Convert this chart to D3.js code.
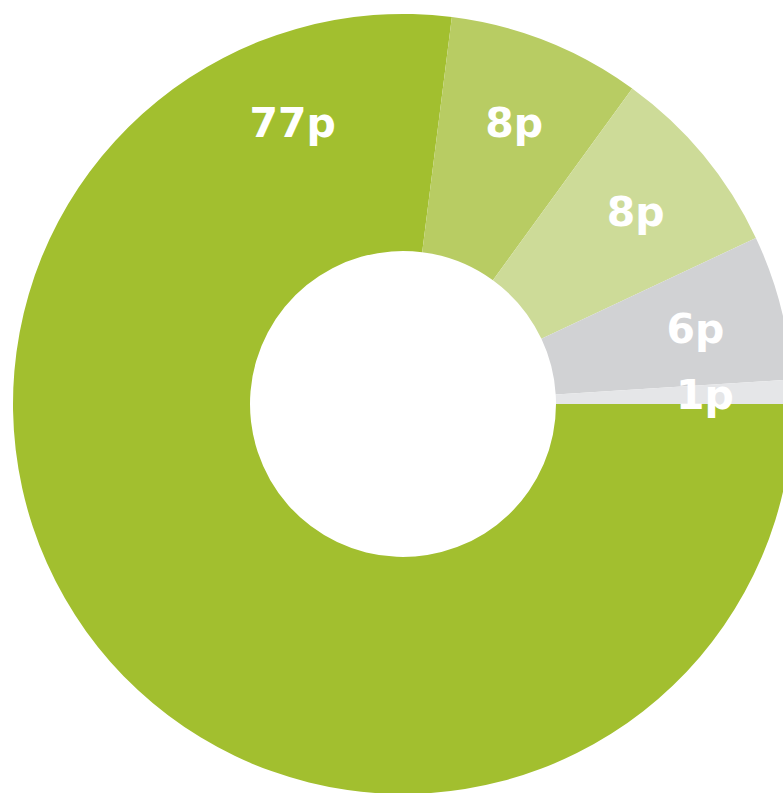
<!DOCTYPE html>
<html>
<head>
<meta charset="utf-8">
<script src="https://cdn.jsdelivr.net/npm/d3@7"></script>
<style>
  html, body { margin: 0; padding: 0; background: #fff; overflow: hidden; }
  .lbl { font-family: "DejaVu Sans", "Noto Sans", sans-serif; font-weight: bold; fill: #fff; }
</style>
</head>
<body>
<div id="chart"></div>
<script>
// slices, clockwise from 3 o'clock
var labels = ["77p", "8p", "8p", "6p", "1p"];
var values = [77, 8, 8, 6, 1];
var colors = ["#a2bf2f", "#b8cc63", "#cddb98", "#d1d2d4", "#e5e6e8"];

var width = 783, height = 793;
var cx = 403, cy = 404;
var outerR = 390, innerR = 153, labelR = 302;

var svg = d3.select("#chart").append("svg")
    .attr("width", width)
    .attr("height", height);

var g = svg.append("g").attr("transform", "translate(" + cx + "," + cy + ")");

var pie = d3.pie()
    .sort(null)
    .value(function (d, i) { return values[i]; })
    .startAngle(Math.PI / 2)
    .endAngle(Math.PI / 2 + 2 * Math.PI);

var arcs = pie(labels);

var arc = d3.arc().innerRadius(innerR).outerRadius(outerR);

g.selectAll("path")
    .data(arcs)
    .enter()
    .append("path")
    .attr("d", arc)
    .attr("fill", function (d, i) { return colors[i]; });

// big slice gets its label near its end (top left), others at mid angle
function labelAngle(d, i) {
    if (i === 0) return d.endAngle - 0.5;
    return (d.startAngle + d.endAngle) / 2;
}

g.selectAll("text")
    .data(arcs)
    .enter()
    .append("text")
    .attr("class", "lbl")
    .attr("text-anchor", "middle")
    .attr("dominant-baseline", "central")
    .attr("font-size", 41)
    .attr("x", function (d, i) { return labelR * Math.sin(labelAngle(d, i)); })
    .attr("y", function (d, i) { return -labelR * Math.cos(labelAngle(d, i)); })
    .text(function (d) { return d.data; });
</script>
</body>
</html>
